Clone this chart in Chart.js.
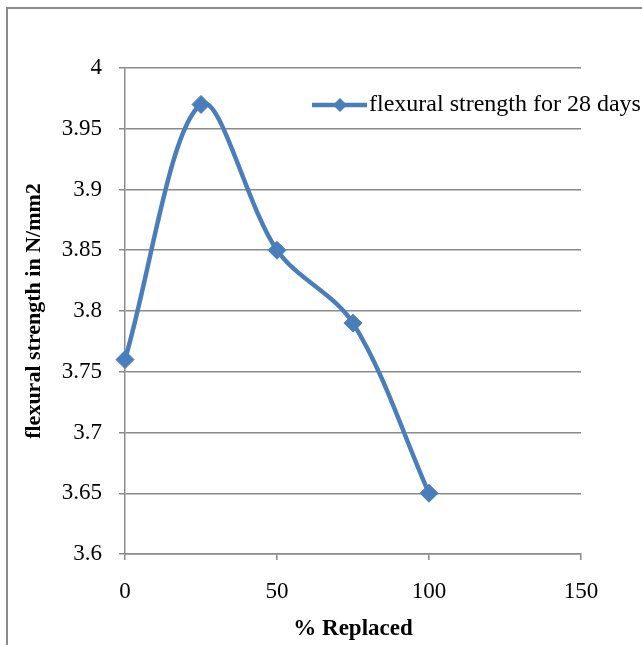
<!DOCTYPE html>
<html>
<head>
<meta charset="utf-8">
<script src="https://cdn.jsdelivr.net/npm/chart.js@4/dist/chart.umd.min.js"></script>
<style>
  html, body { margin: 0; padding: 0; background: #fff; overflow: hidden; }
  #wrap { position: relative; width: 642px; height: 645px; }
  #frame { position: absolute; left: 6px; top: 7px; width: 700px; height: 700px;
           border: 2px solid #8a8a8a; box-sizing: border-box; }
  canvas { position: absolute; left: 0; top: 0; }
</style>
</head>
<body>
<div id="wrap">
  <div id="frame"></div>
  <canvas id="c" width="642" height="645"></canvas>
</div>
<script>
// % of material replaced and measured flexural strength after 28 days
const replaced = [0, 25, 50, 75, 100];
const strength = [3.76, 3.97, 3.85, 3.79, 3.65];
const seriesLabel = 'flexural strength for 28 days';
const xTicks = [0, 50, 100, 150];
const yTicks = [3.6, 3.65, 3.7, 3.75, 3.8, 3.85, 3.9, 3.95, 4];

const blue = '#4A7EBB';
const grey = '#8a8a8a';
const serif = "'Liberation Serif', 'Times New Roman', serif";

// legend drawn as a free-floating entry near the top of the plot
const floatingLegend = {
  id: 'floatingLegend',
  afterDraw(chart) {
    const ctx = chart.ctx;
    const ds = chart.data.datasets[0];
    const y = 105;
    const r = 7;
    ctx.save();
    ctx.strokeStyle = ds.borderColor;
    ctx.lineWidth = ds.borderWidth;
    ctx.beginPath();
    ctx.moveTo(312, y);
    ctx.lineTo(367, y);
    ctx.stroke();
    ctx.fillStyle = ds.pointBackgroundColor;
    ctx.beginPath();
    ctx.moveTo(340, y - r);
    ctx.lineTo(340 + r, y);
    ctx.lineTo(340, y + r);
    ctx.lineTo(340 - r, y);
    ctx.closePath();
    ctx.fill();
    ctx.fillStyle = '#000';
    ctx.font = '24px ' + serif;
    ctx.textBaseline = 'middle';
    ctx.textAlign = 'left';
    ctx.fillText(ds.label, 369, y);
    ctx.restore();
  }
};

new Chart(document.getElementById('c'), {
  type: 'line',
  data: {
    datasets: [{
      label: seriesLabel,
      data: replaced.map((x, i) => ({ x: x, y: strength[i] })),
      borderColor: blue,
      backgroundColor: blue,
      pointBackgroundColor: blue,
      pointBorderColor: blue,
      borderWidth: 4.5,
      pointStyle: 'rectRot',
      pointRadius: 9,
      pointBorderWidth: 1,
      tension: 0.33,
      fill: false,
      clip: false
    }]
  },
  options: {
    responsive: false,
    animation: false,
    devicePixelRatio: 1,
    layout: { padding: { left: 0, right: 61, top: 68, bottom: 0 } },
    plugins: {
      legend: { display: false },
      tooltip: { enabled: false }
    },
    scales: {
      x: {
        type: 'linear',
        min: 0, max: 150,
        afterBuildTicks: s => { s.ticks = xTicks.map(v => ({ value: v })); },
        afterFit: s => { s.height = 91; },
        grid: { drawOnChartArea: false, drawTicks: true, tickLength: 6, color: grey, lineWidth: 1.5 },
        border: { display: true, color: grey, width: 1.5 },
        ticks: { color: '#000', font: { family: serif, size: 23 }, padding: 18, maxRotation: 0 },
        title: { display: true, text: '% Replaced', color: '#000',
                 font: { family: serif, size: 23, weight: 'bold' }, padding: { top: 2, bottom: 2 } }
      },
      y: {
        type: 'linear',
        min: 3.6, max: 4,
        afterBuildTicks: s => { s.ticks = yTicks.map(v => ({ value: v })); },
        afterFit: s => { s.width = 125; },
        grid: { drawOnChartArea: true, drawTicks: true, tickLength: 6, color: grey, lineWidth: 1.5 },
        border: { display: true, color: grey, width: 1.5 },
        ticks: { color: '#000', font: { family: serif, size: 23 }, padding: 17,
                 callback: v => String(Math.round(v * 100) / 100) },
        title: { display: true, text: 'flexural strength in N/mm2', color: '#000',
                 font: { family: serif, size: 22, weight: 'bold' }, padding: { top: 21, bottom: 0 } }
      }
    }
  },
  plugins: [floatingLegend]
});
</script>
</body>
</html>
